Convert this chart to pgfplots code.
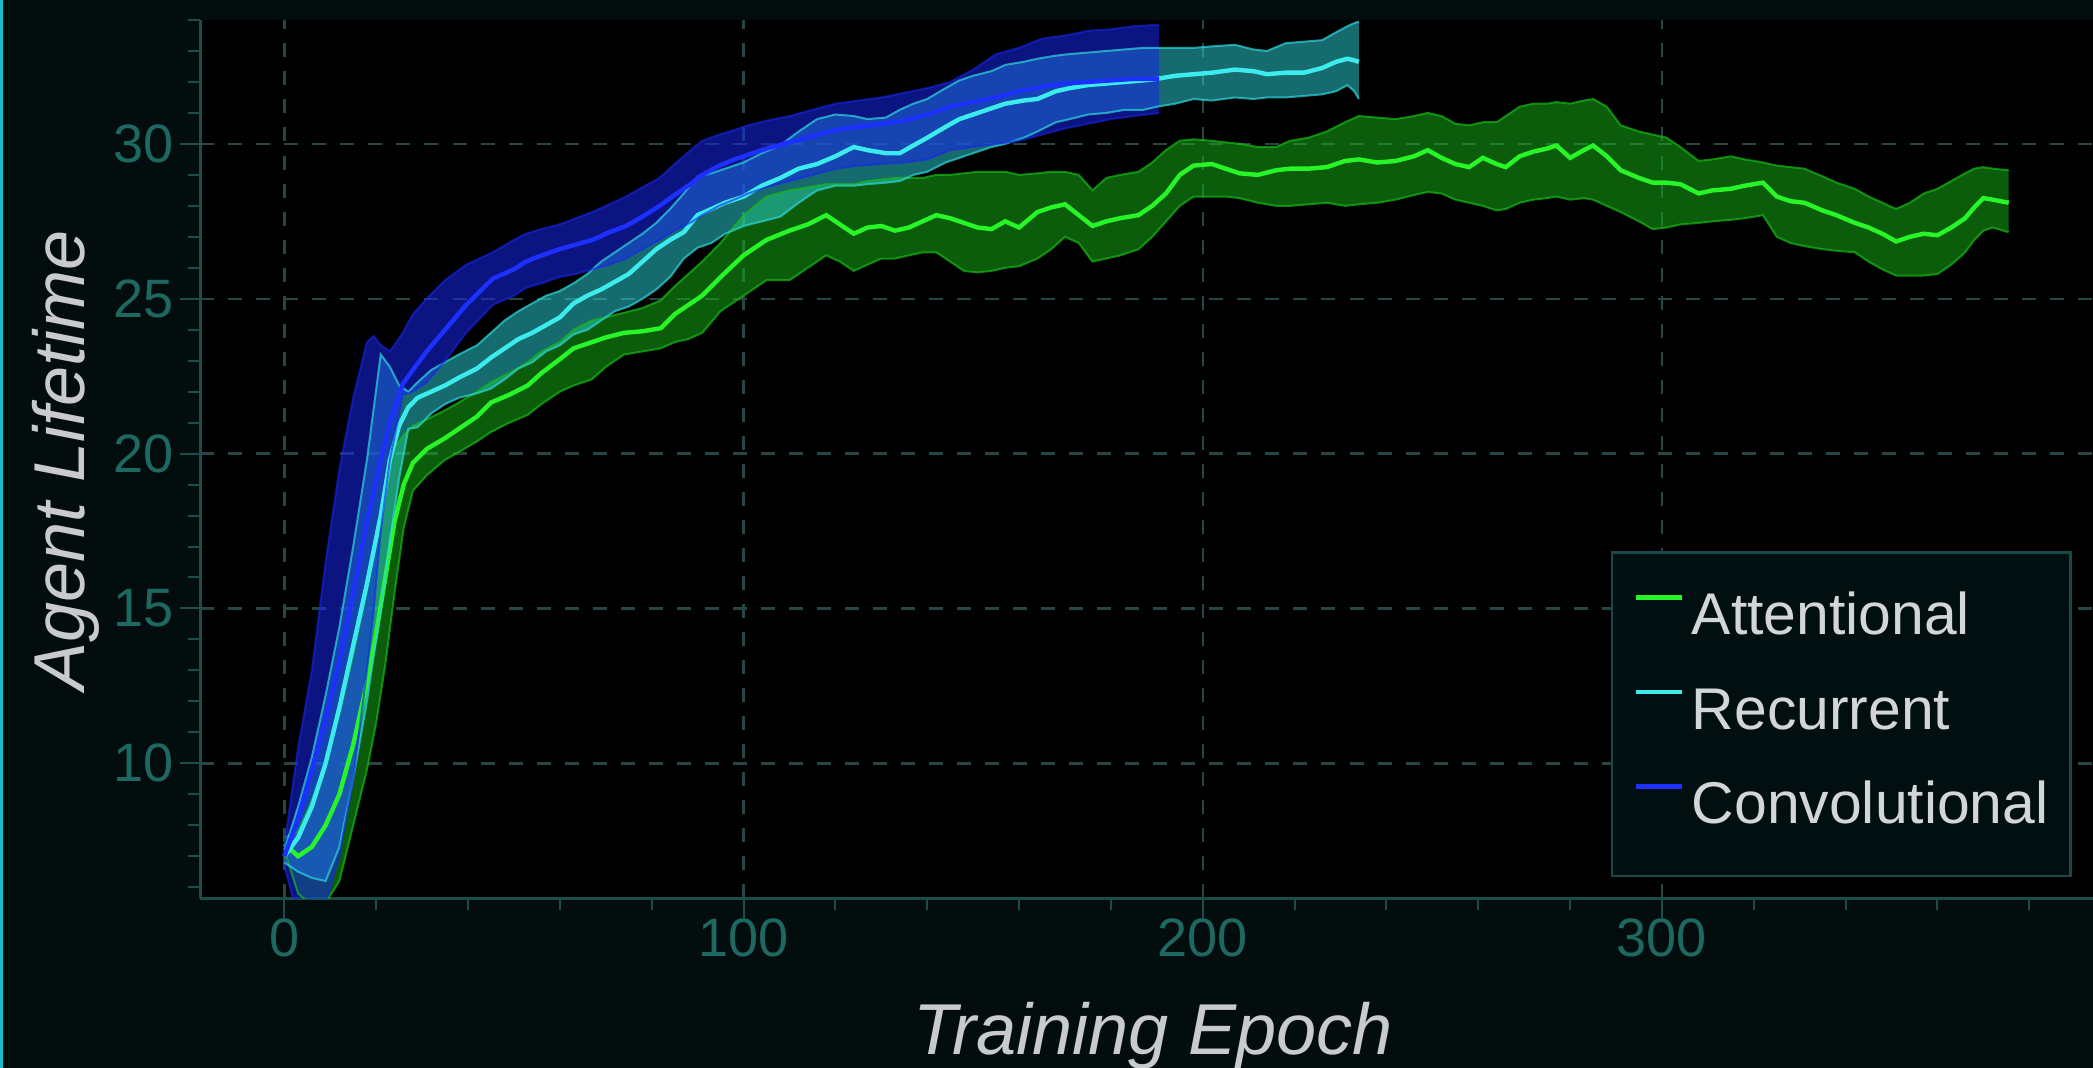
\documentclass[border=0pt]{standalone}
\usepackage{fontspec}
\setmainfont{Liberation Sans}
\usepackage{pgfplots}
\pgfplotsset{compat=1.18}
\usepackage{pgfplotstable}
\usepgfplotslibrary{fillbetween}

\definecolor{bgc}{RGB}{3,13,14}
\definecolor{axisc}{RGB}{26,78,74}
\definecolor{tickc}{RGB}{30,104,98}
\definecolor{gridc}{RGB}{38,70,70}
\definecolor{labc}{RGB}{200,202,205}
\definecolor{legb}{RGB}{25,72,70}
\definecolor{legf}{RGB}{2,15,16}
\definecolor{legt}{RGB}{210,214,214}
\definecolor{edgec}{RGB}{22,190,205}
\definecolor{attL}{RGB}{40,245,40}
\definecolor{attB}{RGB}{22,185,22}
\definecolor{recL}{RGB}{60,235,235}
\definecolor{recB}{RGB}{45,215,220}
\definecolor{conL}{RGB}{28,48,255}
\definecolor{conB}{RGB}{22,38,235}

\pgfplotstableread{
x m lo hi
0 7.4 7.2 7.6
3 7.0 5.8 7.8
6 7.3 5.4 8.8
9 8.0 5.5 10.0
12 9.0 6.2 11.6
15 10.6 8.0 13.5
18 12.6 9.8 15.6
20 14.2 11.3 17.3
22 16.0 13.2 19.0
24 17.8 15.5 20.2
26 19.0 17.6 20.6
28 19.7 18.8 20.9
31 20.15 19.3 21.1
35 20.5 19.8 21.4
38 20.8 20.05 21.65
42 21.2 20.4 22.0
45 21.65 20.7 22.3
49 21.9 21.0 22.6
53 22.2 21.25 22.95
56 22.6 21.6 23.3
60 23.05 22.0 23.6
63 23.4 22.2 24.0
67 23.6 22.4 24.3
70 23.75 22.8 24.4
74 23.9 23.2 24.55
78 23.95 23.3 24.7
82 24.05 23.4 24.95
85 24.5 23.6 25.4
88 24.8 23.7 25.8
91 25.1 23.9 26.2
95 25.7 24.6 26.8
100 26.4 25.1 27.7
105 26.9 25.6 28.3
110 27.2 25.6 28.5
114 27.4 26.0 28.6
118 27.7 26.4 28.7
121 27.4 26.2 28.7
124 27.1 25.9 28.7
127 27.3 26.1 28.8
130 27.35 26.3 28.85
133 27.2 26.3 28.9
136 27.3 26.4 28.9
139 27.5 26.5 28.9
142 27.7 26.5 29.0
145 27.6 26.2 29.0
148 27.45 25.9 29.05
151 27.3 25.85 29.1
154 27.25 25.9 29.1
157 27.5 26.0 29.1
160 27.3 26.05 29.0
164 27.8 26.3 29.05
167 27.95 26.6 29.1
170 28.05 27.0 29.1
173 27.7 26.8 29.0
176 27.35 26.2 28.5
179 27.5 26.3 28.9
182 27.6 26.4 29.0
186 27.7 26.6 29.1
189 28.0 27.0 29.4
192 28.4 27.5 29.8
195 29.0 28.0 30.1
198 29.3 28.3 30.15
202 29.35 28.3 30.1
205 29.2 28.3 30.05
208 29.05 28.25 30.0
212 29.0 28.1 29.9
216 29.15 28.0 29.9
219 29.2 28.0 30.1
223 29.2 28.05 30.2
227 29.25 28.1 30.4
231 29.45 28.0 30.7
234 29.5 28.05 30.9
238 29.4 28.1 30.85
242 29.45 28.2 30.8
246 29.6 28.35 30.9
249 29.8 28.45 31.0
252 29.55 28.4 30.9
255 29.35 28.2 30.65
258 29.25 28.1 30.6
261 29.55 28.0 30.7
264 29.35 27.85 30.7
266 29.25 27.9 30.9
269 29.6 28.1 31.2
272 29.75 28.2 31.3
275 29.85 28.25 31.3
277 29.95 28.3 31.35
280 29.55 28.2 31.3
283 29.8 28.25 31.4
285 29.95 28.2 31.45
288 29.6 28.0 31.2
291 29.15 27.8 30.6
295 28.9 27.5 30.4
298 28.75 27.25 30.3
301 28.75 27.3 30.2
304 28.7 27.4 29.9
308 28.4 27.45 29.45
311 28.5 27.5 29.5
315 28.55 27.55 29.6
318 28.65 27.6 29.5
322 28.75 27.7 29.4
325 28.3 27.0 29.3
328 28.15 26.8 29.25
331 28.1 26.7 29.2
335 27.85 26.6 28.95
338 27.7 26.55 28.75
342 27.45 26.5 28.55
345 27.3 26.2 28.3
348 27.1 25.95 28.1
351 26.85 25.75 27.9
354 27.0 25.75 28.1
357 27.1 25.75 28.4
360 27.05 25.8 28.55
363 27.3 26.1 28.8
366 27.6 26.5 29.05
368 27.95 26.9 29.2
370 28.25 27.2 29.25
372 28.2 27.3 29.2
375.5 28.1 27.15 29.15
}\att

\pgfplotstableread{
x m lo hi
0 7.0 6.8 7.2
3 7.6 6.5 8.6
6 8.6 6.3 10.2
9 10.0 6.2 12.2
12 11.8 7.3 14.4
15 13.8 9.5 17.0
18 15.8 12.0 19.8
21 18.0 15.0 23.2
23 19.8 17.2 22.8
25 20.9 19.2 22.2
27 21.5 20.8 22.0
29 21.8 20.85 22.3
32 22.0 21.3 22.7
35 22.2 21.6 22.95
38 22.45 21.8 23.2
42 22.75 21.95 23.5
45 23.1 22.1 23.9
48 23.4 22.4 24.3
51 23.7 22.75 24.6
54 23.9 22.95 24.85
57 24.15 23.3 25.1
60 24.4 23.5 25.25
63 24.85 23.85 25.5
66 25.1 24.0 25.8
69 25.3 24.3 26.2
72 25.55 24.6 26.5
75 25.8 24.75 26.8
78 26.2 25.0 27.1
81 26.6 25.3 27.45
84 26.9 25.7 27.9
87 27.15 26.3 28.4
90 27.7 26.65 28.95
93 27.9 26.8 29.05
96 28.1 27.1 29.2
100 28.3 27.35 29.4
104 28.65 27.5 29.7
108 28.9 27.65 29.95
112 29.2 28.1 30.4
116 29.35 28.5 30.8
120 29.6 28.65 30.95
124 29.9 28.65 30.9
127 29.8 28.7 30.8
131 29.7 28.75 30.85
134 29.7 28.8 31.1
137 29.95 29.0 31.3
140 30.2 29.1 31.45
144 30.55 29.4 31.8
147 30.8 29.55 32.05
150 30.95 29.7 32.2
154 31.15 29.9 32.35
157 31.3 30.0 32.55
161 31.4 30.2 32.65
164 31.45 30.4 32.75
168 31.7 30.7 32.85
171 31.8 30.8 32.9
175 31.9 30.95 32.95
179 31.95 31.0 33.0
183 32.0 31.1 33.05
187 32.05 31.1 33.1
190 32.1 31.2 33.1
194 32.2 31.3 33.1
198 32.25 31.45 33.1
202 32.3 31.4 33.15
207 32.4 31.5 33.2
211 32.35 31.45 33.05
214 32.25 31.5 33.0
218 32.3 31.5 33.25
222 32.3 31.55 33.3
226 32.45 31.6 33.35
229 32.65 31.7 33.6
231.5 32.75 31.9 33.8
233 32.7 31.7 33.9
234 32.65 31.45 33.95
}\rec

\pgfplotstableread{
x m lo hi
0 7.0 6.7 7.3
3 8.2 5.0 10.5
6 9.8 5.0 13.0
9 11.4 5.5 16.5
12 13.3 7.0 19.5
15 15.5 9.5 21.8
18 17.8 13.0 23.6
19.5 18.8 15.0 23.8
21 19.8 17.5 23.5
23 21.0 19.8 23.3
25.8 22.25 21.9 23.9
28 22.7 22.0 24.5
31 23.3 22.3 25.0
35 24.0 23.0 25.6
39.6 24.8 23.9 26.1
45.4 25.65 24.8 26.5
50 25.95 25.1 26.9
52.6 26.2 25.35 27.1
56 26.4 25.5 27.25
59.9 26.6 25.7 27.4
63.5 26.75 25.8 27.6
67.1 26.9 25.95 27.8
70.8 27.15 26.1 28.05
74.4 27.35 26.3 28.3
78 27.65 26.6 28.6
81.7 28.0 26.9 28.9
85 28.35 27.2 29.35
88.9 28.75 27.5 29.85
91 29.0 27.7 30.1
94.7 29.3 28.0 30.3
98 29.5 28.2 30.45
101 29.65 28.4 30.6
105 29.85 28.6 30.75
110 30.05 28.8 30.9
115 30.25 29.0 31.1
120 30.45 29.2 31.3
125 30.55 29.3 31.4
130 30.65 29.35 31.5
135 30.75 29.4 31.65
140 30.95 29.5 31.8
145 31.2 29.8 32.0
150 31.35 29.9 32.4
155 31.5 30.0 32.9
160 31.7 30.1 33.1
165 31.85 30.3 33.4
170 31.95 30.5 33.5
175 32.0 30.65 33.65
180 32.05 30.8 33.7
185 32.1 30.9 33.8
190.5 32.1 31.0 33.85
}\con

\begin{document}
\pagecolor{bgc}%
\begin{tikzpicture}
\begin{axis}[
  at={(50pt,42.33pt)}, anchor=south west,
  scale only axis, width=479.7pt, height=219.33pt,
  xmin=-18.31, xmax=400, ymin=5.64, ymax=34.0,
  axis background/.style={fill=black},
  axis x line*=bottom, axis y line*=left,
  axis line style={color=axisc, line width=0.8pt},
  xtick={0,100,200,300}, ytick={10,15,20,25,30},
  minor xtick={20,40,60,80,120,140,160,180,220,240,260,280,320,340,360,380},
  minor ytick={6,7,8,9,11,12,13,14,16,17,18,19,21,22,23,24,26,27,28,29,31,32,33,34},
  tick align=outside,
  major tick length=5pt, minor tick length=3pt,
  tick style={color=axisc, line width=0.5pt},
  grid=major,
  major grid style={color=gridc, line width=0.6pt, dash pattern=on 3.5pt off 3.5pt},
  /pgf/number format/assume math mode=true,
  tick label style={font=\fontsize{13.5}{15}\selectfont, text=tickc},
  xticklabel style={yshift=3.5pt},
  yticklabel style={xshift=1.8pt},
  xlabel={Training Epoch}, ylabel={Agent Lifetime},
  label style={font=\fontsize{18}{20}\selectfont\itshape, text=labc},
  xlabel style={at={(axis description cs:0.4961,-0.1778)}, anchor=base},
  ylabel style={at={(axis description cs:-0.06,0.4985)}, anchor=base},
  legend style={at={(rel axis cs:0.7344,0.0243)}, anchor=south west,
    draw=legb, fill=legf, line width=0.6pt, text=legt,
    font=\fontsize{14.7}{17}\selectfont,
    inner xsep=5.5pt, inner ysep=9.5pt,
    /tikz/row sep=9.1pt, /tikz/column sep=2pt,
    nodes={inner sep=0pt, text height=11pt, text depth=3.5pt}},
  legend cell align=left,
  legend image code/.code={\draw[#1, line width=1.1pt] (0pt,5.5pt) -- (11.3pt,5.5pt);},
]
% Attentional
\addplot[name path=aU, draw=attB, draw opacity=0.7, line width=0.5pt, forget plot] table[x=x,y=hi]{\att};
\addplot[name path=aL, draw=attB, draw opacity=0.7, line width=0.5pt, forget plot] table[x=x,y=lo]{\att};
\addplot[fill=attB, fill opacity=0.5, draw=none, forget plot] fill between[of=aU and aL];
\addplot[color=attL, line width=1.1pt] table[x=x,y=m]{\att};
\addlegendentry{Attentional}
% Recurrent
\addplot[name path=rU, draw=recB, draw opacity=0.7, line width=0.5pt, forget plot] table[x=x,y=hi]{\rec};
\addplot[name path=rL, draw=recB, draw opacity=0.7, line width=0.5pt, forget plot] table[x=x,y=lo]{\rec};
\addplot[fill=recB, fill opacity=0.5, draw=none, forget plot] fill between[of=rU and rL];
\addplot[color=recL, line width=1.1pt] table[x=x,y=m]{\rec};
\addlegendentry{Recurrent}
% Convolutional
\addplot[name path=cU, draw=conB, draw opacity=0.6, line width=0.5pt, forget plot] table[x=x,y=hi]{\con};
\addplot[name path=cL, draw=conB, draw opacity=0.6, line width=0.5pt, forget plot] table[x=x,y=lo]{\con};
\addplot[fill=conB, fill opacity=0.55, draw=none, forget plot] fill between[of=cU and cL];
\addplot[color=conL, line width=1.1pt] table[x=x,y=m]{\con};
\addlegendentry{Convolutional}
\end{axis}
\fill[edgec] (0,0) rectangle (0.8pt,266.67pt);
\pgfresetboundingbox
\useasboundingbox (0,0) rectangle (522.67pt,266.67pt);
\end{tikzpicture}
\end{document}
